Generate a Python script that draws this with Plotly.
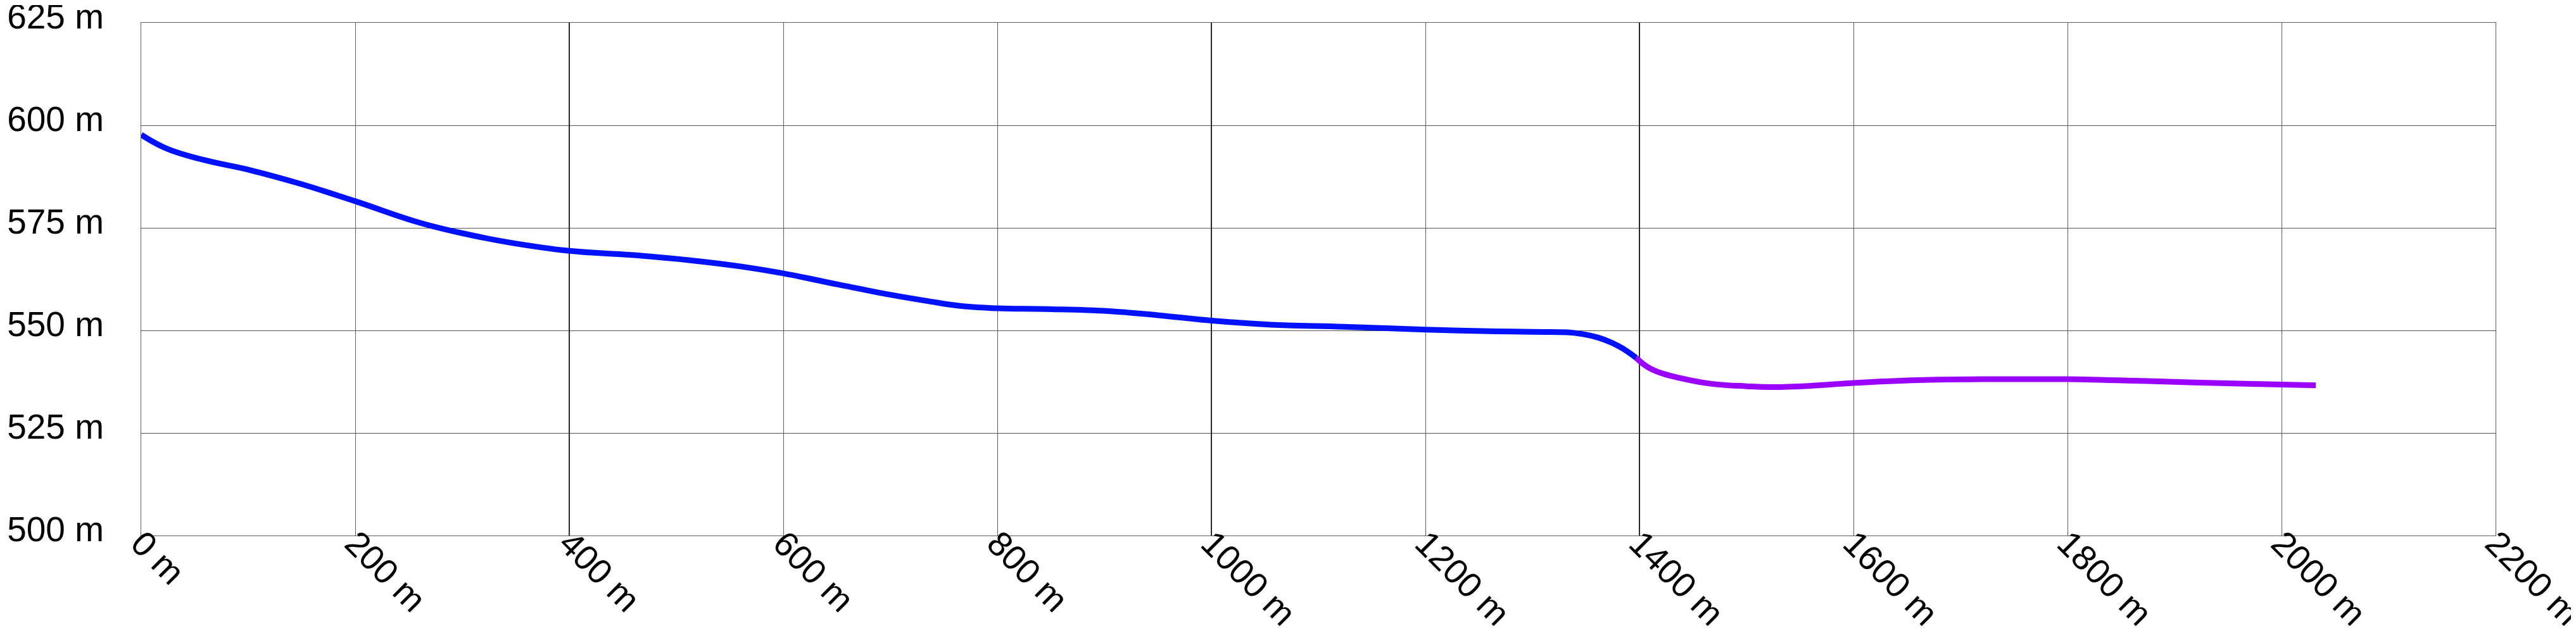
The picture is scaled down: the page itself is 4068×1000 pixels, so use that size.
import plotly.graph_objects as go

blue_dist = [0, 24, 58, 103, 148, 200, 261, 307, 345, 400, 458, 513, 560, 600, 651, 700,
             734, 768, 800, 845, 904, 950, 1000, 1056, 1124, 1200, 1260, 1317, 1339, 1362,
             1381, 1397]
blue_elev = [597.7, 594.3, 591.6, 589.0, 585.8, 581.5, 576.2, 573.3, 571.4, 569.4, 568.4,
             567.1, 565.6, 563.9, 561.2, 558.7, 557.2, 555.9, 555.4, 555.2, 554.7, 553.7,
             552.4, 551.4, 550.9, 550.2, 549.8, 549.6, 549.4, 548.2, 546.1, 543.3]

purple_dist = [1397, 1411, 1441, 1470, 1500, 1525, 1560, 1600, 1661, 1720, 1767, 1800,
               1880, 1948, 2000, 2032]
purple_elev = [543.3, 540.6, 538.2, 536.9, 536.4, 536.2, 536.5, 537.2, 537.9, 538.1,
               538.1, 538.1, 537.6, 537.1, 536.8, 536.6]

x_ticks = [0, 200, 400, 600, 800, 1000, 1200, 1400, 1600, 1800, 2000, 2200]
x_labels = [f"{v} m" for v in x_ticks]
y_ticks = [500, 525, 550, 575, 600, 625]
y_labels = [f"{v} m" for v in y_ticks]
dark_x_grid = [400, 1000, 1400]

FONT = "Liberation Sans, Arial, sans-serif"
FS = 55

fig = go.Figure()
fig.add_trace(go.Scatter(x=blue_dist, y=blue_elev, mode="lines",
                         line=dict(color="#0011ff", width=9, shape="spline", smoothing=1.2),
                         showlegend=False, hoverinfo="skip"))
fig.add_trace(go.Scatter(x=purple_dist, y=purple_elev, mode="lines",
                         line=dict(color="#9900ff", width=9, shape="spline", smoothing=1.2),
                         showlegend=False, hoverinfo="skip"))
# invisible helper so the overlay axis (darker grid lines) is rendered
fig.add_trace(go.Scatter(x=blue_dist, y=blue_elev, mode="lines", xaxis="x2",
                         line=dict(color="rgba(0,0,0,0)", width=0),
                         showlegend=False, hoverinfo="skip"))

fig.update_layout(
    width=4068, height=1000,
    margin=dict(l=215, r=135, t=28, b=162),
    paper_bgcolor="white", plot_bgcolor="white",
    font=dict(family=FONT, size=FS, color="black"),
    xaxis=dict(range=[0, 2200], tickmode="array", tickvals=x_ticks, ticktext=x_labels,
               tickangle=45, automargin=False, ticklabeloverflow="allow",
               ticklabelstandoff=-43, ticklabelshift=0,
               showgrid=True, gridcolor="#5a5a5a", gridwidth=1, zeroline=False,
               showline=True, mirror=True, linecolor="#5a5a5a", linewidth=1,
               ticks="", tickfont=dict(family=FONT, size=FS, color="black")),
    xaxis2=dict(range=[0, 2200], overlaying="x", matches="x", tickvals=dark_x_grid,
                showticklabels=False, showgrid=True, gridcolor="#2a2a2a", gridwidth=2,
                zeroline=False, showline=False, ticks="", side="bottom", automargin=False),
    yaxis=dict(range=[500, 625], tickmode="array", tickvals=y_ticks, ticktext=y_labels,
               automargin=False, ticklabeloverflow="allow",
               showgrid=True, gridcolor="#555", gridwidth=1, zeroline=False,
               showline=True, mirror=True, linecolor="#5a5a5a", linewidth=1,
               ticks="", ticklabelstandoff=47, ticklabelshift=-10,
               tickfont=dict(family=FONT, size=FS, color="black")),
)

fig.write_html("out.html")
